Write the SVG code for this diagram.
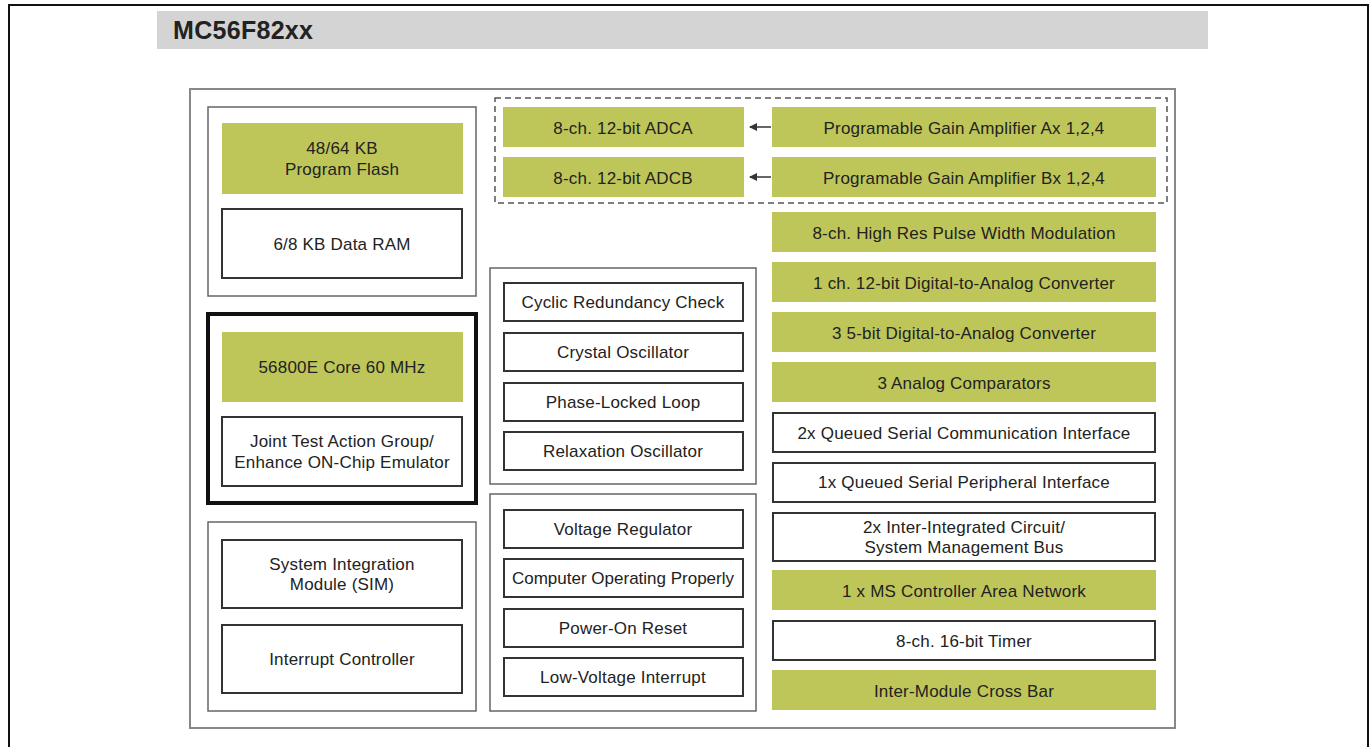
<svg xmlns="http://www.w3.org/2000/svg" width="1370" height="747" viewBox="0 0 1370 747">
<style>
text{font-family:"Liberation Sans",Arial,sans-serif;font-size:17px;letter-spacing:0.2px;fill:#222;text-anchor:middle}
.g{fill:#bfc659}
.w{fill:#fff;stroke:#333;stroke-width:2}
.grp{fill:#fff;stroke:#666;stroke-width:1.5}
.conn{stroke:#333;stroke-width:1.5;fill:none}
</style>
<defs>
<marker id="ah" markerWidth="8" markerHeight="8" refX="7" refY="4" orient="auto" markerUnits="userSpaceOnUse">
<path d="M0,0 L8,4 L0,8 Z" fill="#333"/>
</marker>
</defs>
<rect width="1370" height="747" fill="#fff"/>
<path d="M9,750 L9,5 L1368,5 L1368,750" fill="none" stroke="#111" stroke-width="2"/>
<g id="header">
<rect x="157" y="11" width="1051" height="38" fill="#d4d4d4"/>
<text x="173" y="39" style="text-anchor:start;font-size:25px;font-weight:bold;fill:#222;letter-spacing:0.3px">MC56F82xx</text>
</g>
<rect id="chip" x="190" y="89" width="985" height="639" fill="#fff" stroke="#888" stroke-width="2"/>

<g id="memory">
<rect class="grp" x="208" y="107" width="268" height="189"/>
<g id="flash"><rect class="g" x="222" y="123" width="241" height="71"/><text x="342" y="154">48/64 KB</text><text x="342" y="175">Program Flash</text></g>
<g id="ram"><rect class="w" x="222" y="209" width="240" height="69"/><text x="342" y="250">6/8 KB Data RAM</text></g>
</g>

<g id="coregroup">
<rect x="208" y="314" width="268" height="189" fill="#fff" stroke="#111" stroke-width="4"/>
<g id="core"><rect class="g" x="222" y="332" width="241" height="70"/><text x="342" y="373">56800E Core 60 MHz</text></g>
<g id="jtag"><rect class="w" x="222" y="417" width="240" height="69"/><text x="342" y="447">Joint Test Action Group/</text><text x="342" y="468">Enhance ON-Chip Emulator</text></g>
</g>

<g id="sysgroup">
<rect class="grp" x="208" y="522" width="268" height="189"/>
<g id="sim"><rect class="w" x="222" y="540" width="240" height="68"/><text x="342" y="570">System Integration</text><text x="342" y="590">Module (SIM)</text></g>
<g id="intc"><rect class="w" x="222" y="625" width="240" height="68"/><text x="342" y="665">Interrupt Controller</text></g>
</g>

<rect id="adcgroup" x="495" y="98" width="672" height="105" fill="none" stroke="#555" stroke-width="1.5" stroke-dasharray="6,4"/>
<g id="adca"><rect class="g" x="503" y="107" width="241" height="40"/><text x="623" y="134">8-ch. 12-bit ADCA</text></g>
<g id="adcb"><rect class="g" x="503" y="157" width="241" height="40"/><text x="623" y="184">8-ch. 12-bit ADCB</text></g>
<g id="pgaa"><rect class="g" x="772" y="107" width="384" height="40"/><text x="964" y="134">Programable Gain Amplifier Ax 1,2,4</text></g>
<g id="pgab"><rect class="g" x="772" y="157" width="384" height="40"/><text x="964" y="184">Programable Gain Amplifier Bx 1,2,4</text></g>

<g id="connectors">
<line class="conn" x1="771" y1="127" x2="750" y2="127" marker-end="url(#ah)"/>
<line class="conn" x1="771" y1="177" x2="750" y2="177" marker-end="url(#ah)"/>
</g>

<g id="clockgroup">
<rect class="grp" x="490" y="268" width="266" height="216"/>
<g id="crc"><rect class="w" x="504" y="283" width="239" height="38"/><text x="623" y="308">Cyclic Redundancy Check</text></g>
<g id="xosc"><rect class="w" x="504" y="333" width="239" height="38"/><text x="623" y="358">Crystal Oscillator</text></g>
<g id="pll"><rect class="w" x="504" y="383" width="239" height="38"/><text x="623" y="408">Phase-Locked Loop</text></g>
<g id="rosc"><rect class="w" x="504" y="432" width="239" height="38"/><text x="623" y="457">Relaxation Oscillator</text></g>
</g>

<g id="powergroup">
<rect class="grp" x="490" y="494" width="266" height="217"/>
<g id="vreg"><rect class="w" x="504" y="510" width="239" height="38"/><text x="623" y="535">Voltage Regulator</text></g>
<g id="cop"><rect class="w" x="504" y="559" width="239" height="38"/><text x="623" y="584" style="letter-spacing:0">Computer Operating Properly</text></g>
<g id="por"><rect class="w" x="504" y="609" width="239" height="38"/><text x="623" y="634">Power-On Reset</text></g>
<g id="lvi"><rect class="w" x="504" y="658" width="239" height="38"/><text x="623" y="683">Low-Voltage Interrupt</text></g>
</g>

<g id="pwm"><rect class="g" x="772" y="212" width="384" height="40"/><text x="964" y="239">8-ch. High Res Pulse Width Modulation</text></g>
<g id="dac12"><rect class="g" x="772" y="262" width="384" height="40"/><text x="964" y="289">1 ch. 12-bit Digital-to-Analog Converter</text></g>
<g id="dac5"><rect class="g" x="772" y="312" width="384" height="40"/><text x="964" y="339">3 5-bit Digital-to-Analog Converter</text></g>
<g id="cmp"><rect class="g" x="772" y="362" width="384" height="40"/><text x="964" y="389">3 Analog Comparators</text></g>
<g id="qsci"><rect class="w" x="773" y="413" width="382" height="39"/><text x="964" y="439">2x Queued Serial Communication Interface</text></g>
<g id="qspi"><rect class="w" x="773" y="463" width="382" height="39"/><text x="964" y="488">1x Queued Serial Peripheral Interface</text></g>
<g id="i2c"><rect class="w" x="773" y="513" width="382" height="48"/><text x="964" y="533">2x Inter-Integrated Circuit/</text><text x="964" y="553">System Management Bus</text></g>
<g id="can"><rect class="g" x="772" y="570" width="384" height="40"/><text x="964" y="597">1 x MS Controller Area Network</text></g>
<g id="tmr"><rect class="w" x="773" y="621" width="382" height="39"/><text x="964" y="647">8-ch. 16-bit Timer</text></g>
<g id="xbar"><rect class="g" x="772" y="670" width="384" height="40"/><text x="964" y="697">Inter-Module Cross Bar</text></g>
</svg>
